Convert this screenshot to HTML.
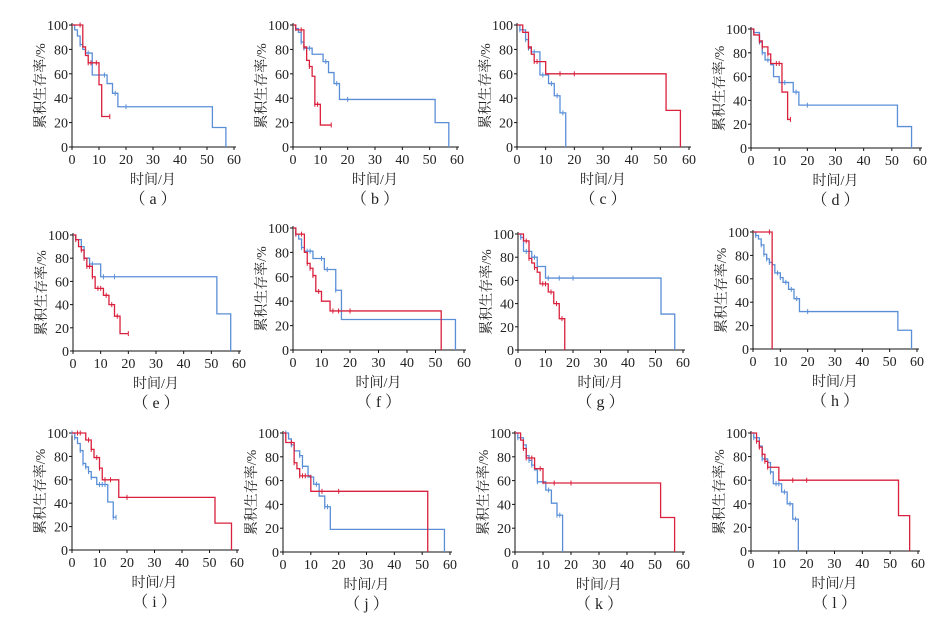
<!DOCTYPE html>
<html><head><meta charset="utf-8">
<style>
html,body{margin:0;padding:0;background:#fff;}
svg{display:block;}
</style></head>
<body>
<svg id="s" width="946" height="624" xmlns="http://www.w3.org/2000/svg" font-family="'Liberation Serif', 'Times New Roman', 'Noto Serif CJK SC', serif" fill="#222"></svg>
<script>
var B="#5a8fd8",R="#d9203c";
var P=[
 {ox:72,oy:147,top:25,x60:234,lab:"a",
  b:{d:[[0,100],[1,96],[2,91],[3,84],[4,80],[5,77],[7.5,59],[13,52],[15,44],[17,33],[52,16],[57,0]],c:[3,5,6,12,16,20]},
  r:{d:[[0,100],[4,82],[5,75],[6,69],[10,51],[11,25]],e:14,c:[3,6,7,9,14]}},
 {ox:293,oy:147,top:25,x60:457,lab:"b",
  b:{d:[[0,100],[1,97],[2,94],[3,86],[4,81],[7,76],[11,70],[13,61],[15,52],[17,39],[52,20],[57,0]],c:[1,3,4,6,12,16,20]},
  r:{d:[[0,100],[1,96],[4,82],[5,71],[6,66],[7,58],[8,35],[10,18]],e:14,c:[3,4,6,8,9,14]}},
 {ox:517,oy:147,top:25,x60:689,lab:"c",
  b:{d:[[0,100],[1,96],[3,88],[4,81],[5,78],[8,59],[11,52],[13,42],[15,28],[17,0]],c:[1,3,4,6,9,12,14,16]},
  r:{d:[[0,100],[2,94],[4,82],[5,76],[6,70],[10,60],[52,30],[57,0]],c:[4,6,7,15,20]}},
 {ox:751,oy:148,top:29,x60:920,lab:"d",
  b:{d:[[0,100],[1,97],[3,89],[4,80],[5,74],[7,70],[8,60],[10,55],[15,47],[17,36],[52,18],[57,0]],c:[1,3,4,6,12,16,20]},
  r:{d:[[0,100],[1,95],[3,90],[4,85],[6,79],[7,71],[11,47],[13,24]],e:14,c:[3,4,6,9,10,14]}},
 {ox:73,oy:351,top:235,x60:239,lab:"e",
  b:{d:[[0,100],[1,96],[3,90],[4,80],[6,75],[10,64],[52,32],[57,0]],c:[4,7,11,15]},
  r:{d:[[0,100],[1,96],[2,90],[3,87],[4,80],[5,73],[7,64],[8,54],[11,48],[13,40],[15,30],[17,15]],e:20,c:[1,3,4,5,6,7,9,10,12,14,16,20]}},
 {ox:293,oy:350,top:228,x60:464,lab:"f",
  b:{d:[[0,100],[1,95],[2,91],[3,84],[4,81],[7,75],[11,66],[15,49],[17,25],[57,0]],c:[1,3,5,6,10,12,15]},
  r:{d:[[0,100],[1,95],[4,80],[5,71],[6,67],[7,61],[8,48],[10,40],[13,32],[52,0]],c:[1,3,5,6,7,9,14,16,20]}},
 {ox:518,oy:350,top:234,x60:683,lab:"g",
  b:{d:[[0,100],[1,97],[2,85],[5,80],[7,72],[10,62],[52,31],[57,0]],c:[1,3,4,6,11,15,20]},
  r:{d:[[0,100],[2,94],[4,79],[5,75],[6,71],[7,67],[8,57],[11,50],[13,40],[15,27],[17,0]],c:[3,4,6,9,10,12,14,16]}},
 {ox:753,oy:349,top:232,x60:917,lab:"h",
  b:{d:[[0,100],[1,97],[2,94],[3,89],[4,81],[5,77],[6,74],[7,72],[8,65],[10,61],[11,57],[13,51],[15,43],[17,32],[53,16],[58,0]],c:[1,3,4,5,6,9,10,12,14,16,20]},
  r:{d:[[0,100],[7,0]],c:[6]}},
 {ox:72,oy:550,top:433,x60:237,lab:"i",
  b:{d:[[0,100],[1,96],[2,91],[3,85],[4,74],[5,71],[6,67],[7,62],[9,56],[13,41],[15,28]],e:16,c:[0,1,3,4,5,6,7,10,11,12,15,16]},
  r:{d:[[0,100],[5,94],[7,86],[8,79],[10,70],[11,60],[17,45],[52,23],[58,0]],c:[2,3,6,7,9,10,12,14,20]}},
 {ox:283,oy:552,top:433,x60:450,lab:"j",
  b:{d:[[0,100],[2,95],[3,90],[4,85],[6,81],[7,72],[9,63],[11,57],[13,47],[15,38],[17,19],[58,0]],c:[1,3,4,6,7,10,12,15,16]},
  r:{d:[[0,100],[1,92],[4,75],[5,70],[6,64],[10,51],[52,0]],c:[3,4,6,7,8,14,20]}},
 {ox:515,oy:552,top:433,x60:683,lab:"k",
  b:{d:[[0,100],[1,96],[3,90],[4,81],[5,77],[6,73],[7,69],[8,59],[11,52],[13,41],[15,31],[17,0]],c:[1,3,4,5,6,8,10,12,15,16]},
  r:{d:[[0,100],[2,94],[3,87],[4,79],[7,70],[10,58],[52,29],[57,0]],c:[3,4,6,9,14,20]}},
 {ox:751,oy:551,top:433,x60:918,lab:"l",
  b:{d:[[0,100],[1,96],[3,89],[4,78],[6,75],[7,67],[8,57],[11,50],[13,40],[15,27],[17,0]],c:[1,3,4,5,7,9,10,12,14,16]},
  r:{d:[[0,100],[2,93],[3,88],[4,82],[5,76],[6,71],[10,60],[53,30],[57,0]],c:[2,3,4,5,6,15,20]}}
];
var h="";
P.forEach(function(p){
 var sx=(p.x60-p.ox)/60, sy=(p.oy-p.top)/100;
 function X(t){return p.ox+t*sx;} function Y(v){return p.oy-v*sy;}
 h+='<line x1="'+p.ox+'" y1="'+(p.top-2)+'" x2="'+p.ox+'" y2="'+p.oy+'" stroke="#111" stroke-width="1"/>';
 h+='<line x1="'+p.ox+'" y1="'+p.oy+'" x2="'+(p.x60+2)+'" y2="'+p.oy+'" stroke="#111" stroke-width="1"/>';
 for(var i=0;i<=6;i++){var x=X(i*10);
  h+='<line x1="'+x+'" y1="'+p.oy+'" x2="'+x+'" y2="'+(p.oy+3)+'" stroke="#111"/>';
  h+='<text x="'+x+'" y="'+(p.oy+17)+'" font-size="14" text-anchor="middle">'+(i*10)+'</text>';}
 for(var j=0;j<=5;j++){var y=Y(j*20);
  h+='<line x1="'+(p.ox-3)+'" y1="'+y+'" x2="'+p.ox+'" y2="'+y+'" stroke="#111"/>';
  h+='<text x="'+(p.ox-4)+'" y="'+(y+5)+'" font-size="14" text-anchor="end">'+(j*20)+'</text>';}
 var cx=(p.ox+p.x60)/2;
 h+='<text x="'+cx+'" y="'+(p.oy+37)+'" font-size="14" text-anchor="middle">时间/月</text>';
 h+='<text x="'+cx+'" y="'+(p.oy+57)+'" font-size="16" text-anchor="middle" xml:space="preserve">（ '+p.lab+' ）</text>';
 var ym=(p.oy+p.top)/2, yx=p.ox-27;
 h+='<text transform="translate('+yx+','+ym+') rotate(-90)" font-size="14" text-anchor="middle">累积生存率/%</text>';
 [[p.b,B],[p.r,R]].forEach(function(q){
  var s=q[0],col=q[1],d=s.d,pts="M"+X(0)+","+Y(d[0][1]);
  for(var k=1;k<d.length;k++){pts+=" H"+X(d[k][0])+" V"+Y(d[k][1]);}
  if(s.e!==undefined) pts+=" H"+X(s.e);
  h+='<path d="'+pts+'" fill="none" stroke="'+col+'" stroke-width="1.3"/>';
  s.c.forEach(function(t){
   var v=d[0][1];for(var k=0;k<d.length;k++){if(d[k][0]<=t)v=d[k][1];}
   if(v<=0)return;
   var x=X(t),y=Y(v);
   h+='<line x1="'+x+'" y1="'+(y-2.5)+'" x2="'+x+'" y2="'+(y+2.5)+'" stroke="'+col+'" stroke-width="1"/>';
  });
 });
});
document.getElementById("s").innerHTML=h;
</script>
</body></html>
